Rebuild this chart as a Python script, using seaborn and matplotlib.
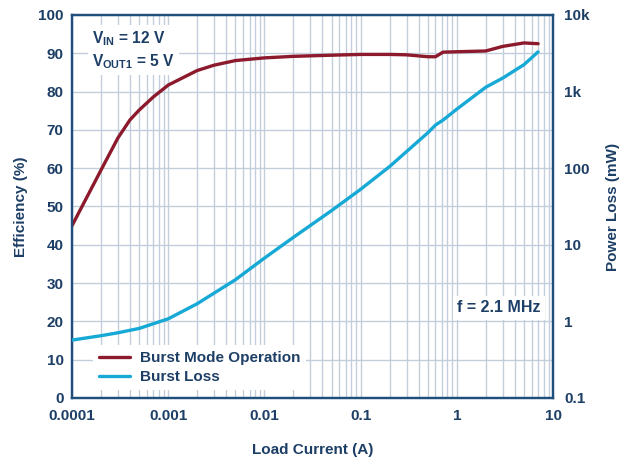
import pandas as pd
import matplotlib
matplotlib.use('Agg')
import matplotlib.pyplot as plt
from matplotlib.ticker import FixedLocator, FixedFormatter, NullFormatter, LogLocator
import seaborn as sns

# efficiency curve (Burst Mode Operation)
eff_current = [0.0001, 0.0002, 0.0003, 0.0004, 0.0005, 0.0007, 0.001, 0.002, 0.003, 0.005, 0.01,
               0.02, 0.05, 0.1, 0.2, 0.3, 0.5, 0.6, 0.72, 1, 2, 3, 5, 7]
eff_values = [45, 59.5, 67.9, 72.6, 75.2, 78.6, 81.7, 85.5, 86.9, 88.1, 88.8,
              89.2, 89.5, 89.7, 89.7, 89.6, 89.1, 89.1, 90.3, 90.4, 90.6, 91.8, 92.7, 92.5]

# power loss curve (Burst Loss), mW
loss_current = [0.0001, 0.0002, 0.0003, 0.0005, 0.001, 0.002, 0.005, 0.01, 0.02, 0.05,
                0.1, 0.2, 0.5, 0.6, 0.72, 1, 2, 3, 5, 7]
loss_values = [0.57, 0.65, 0.71, 0.81, 1.08, 1.7, 3.5, 6.7, 12.5, 28,
               53, 105, 290, 365, 425, 590, 1140, 1500, 2250, 3300]

right_ticks = [0.1, 1, 10, 100, 1000, 10000]
right_labels = ['0.1', '1', '10', '100', '1k', '10k']
x_ticks = [0.0001, 0.001, 0.01, 0.1, 1, 10]
x_labels = ['0.0001', '0.001', '0.01', '0.1', '1', '10']

navy = '#1d3f66'
red = '#8c1a2c'
cyan = '#17a9d6'
grid_c = '#c2cedb'

sns.set_style('white')
plt.rcParams['font.family'] = ['Liberation Sans', 'DejaVu Sans']
plt.rcParams['font.weight'] = 'bold'
plt.rcParams['mathtext.fontset'] = 'custom'
plt.rcParams['mathtext.rm'] = 'Liberation Sans:bold'
plt.rcParams['mathtext.it'] = 'Liberation Sans:bold'
plt.rcParams['mathtext.bf'] = 'Liberation Sans:bold'
plt.rcParams['mathtext.default'] = 'rm'

eff_df = pd.DataFrame({'current': eff_current, 'eff': eff_values})
loss_df = pd.DataFrame({'current': loss_current, 'loss': loss_values})

fig = plt.figure(figsize=(6.21, 4.61), dpi=100)
ax = fig.add_axes([0.116, 0.1367, 0.7745, 0.8308])
ax2 = ax.twinx()

sns.lineplot(data=eff_df, x='current', y='eff', ax=ax, color=red, linewidth=2.4, zorder=3)
sns.lineplot(data=loss_df, x='current', y='loss', ax=ax2, color=cyan, linewidth=2.4, zorder=3)

ax.set_xscale('log')
ax.set_xlim(0.0001, 10)
ax.set_ylim(0, 100)
ax.set_yticks(range(0, 101, 10))
ax.xaxis.set_major_locator(FixedLocator(x_ticks))
ax.xaxis.set_major_formatter(FixedFormatter(x_labels))
ax.xaxis.set_minor_locator(LogLocator(base=10, subs=range(2, 10), numticks=20))
ax.xaxis.set_minor_formatter(NullFormatter())
ax.grid(True, which='both', axis='x', color=grid_c, linewidth=1)
ax.grid(True, which='major', axis='y', color=grid_c, linewidth=1)
ax.set_axisbelow(True)

ax2.set_yscale('log')
ax2.set_ylim(0.1, 10000)
ax2.yaxis.set_major_locator(FixedLocator(right_ticks))
ax2.yaxis.set_major_formatter(FixedFormatter(right_labels))
ax2.yaxis.set_minor_formatter(NullFormatter())
ax2.tick_params(axis='y', which='minor', length=0)

for a in (ax, ax2):
    a.tick_params(axis='both', which='both', length=0, colors=navy, labelsize=11, pad=8)
    for s in a.spines.values():
        s.set_color('#1f4f7d')
        s.set_linewidth(1.6)
ax.tick_params(axis='y', pad=6)

ax.set_xlabel('Load Current (A)', color=navy, fontsize=11, fontweight='bold', labelpad=14)
ax.set_ylabel('Efficiency (%)', color=navy, fontsize=11, fontweight='bold', labelpad=7)
ax2.set_ylabel('Power Loss (mW)', color=navy, fontsize=11, fontweight='bold', labelpad=12)

box = dict(facecolor='white', edgecolor='none', pad=3)
ax2.text(0.042, 0.962, 'V$_{IN}$ = 12 V\nV$_{OUT1}$ = 5 V', transform=ax.transAxes,
         ha='left', va='top', color=navy, fontsize=11.2, fontweight='bold',
         linespacing=1.3, bbox=box, zorder=5)
ax2.text(0.975, 0.235, 'f = 2.1 MHz', transform=ax.transAxes, ha='right', va='center',
         color=navy, fontsize=11.5, fontweight='bold', bbox=box, zorder=5)

handles = [plt.Line2D([], [], color=red, linewidth=2.4),
           plt.Line2D([], [], color=cyan, linewidth=2.4)]
leg = ax2.legend(handles, ['Burst Mode Operation', 'Burst Loss'], loc='lower left',
                 bbox_to_anchor=(0.028, 0.0), frameon=True, fancybox=False,
                 framealpha=1, edgecolor='none', fontsize=11, handlelength=2.0,
                 handletextpad=0.65, labelspacing=0.35, borderpad=0.4)
for t in leg.get_texts():
    t.set_color(navy)
    t.set_fontweight('bold')

fig.savefig('out.png', dpi=100)
